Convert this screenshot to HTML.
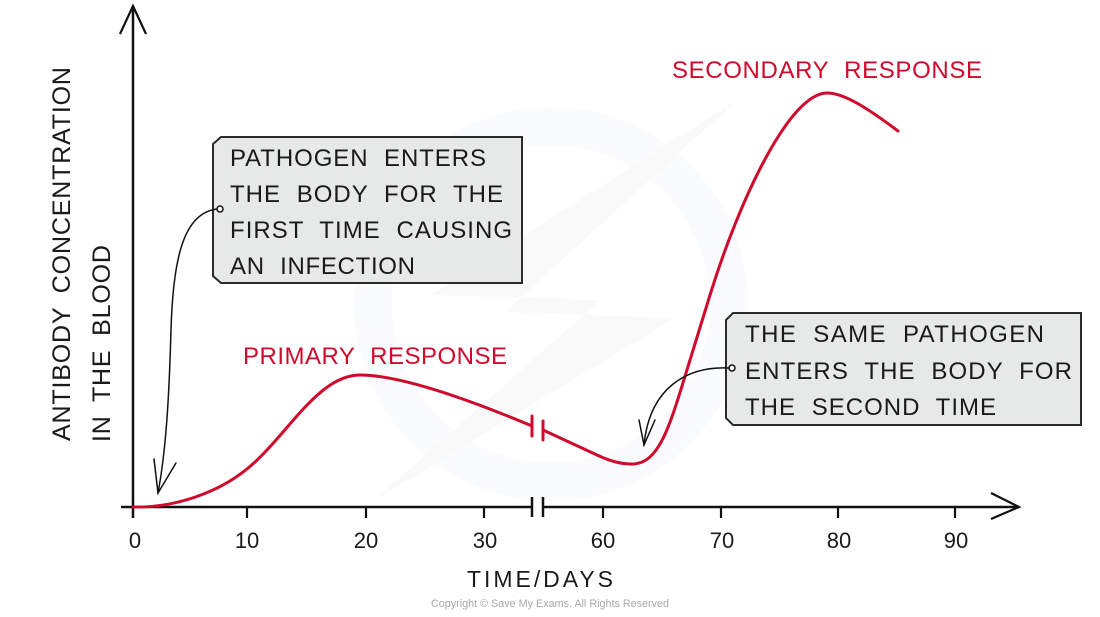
<!DOCTYPE html>
<html>
<head>
<meta charset="utf-8">
<style>
  html, body { margin:0; padding:0; background:#fff; }
  svg { display:block; }
  text { font-family: "Liberation Sans", sans-serif; }
</style>
</head>
<body>
<svg width="1100" height="617" viewBox="0 0 1100 617" xmlns="http://www.w3.org/2000/svg">
  <!-- faint watermark -->
  <circle cx="551" cy="304" r="178" fill="none" stroke="#f9fbfd" stroke-width="38"/>
  <polygon points="737,100 430,295 600,300 375,500 675,318 505,312" fill="#f9f9fa"/>

  <!-- Y axis -->
  <line x1="133" y1="6" x2="133" y2="518" stroke="#111" stroke-width="2.5"/>
  <polyline points="120,34 133,6 146,34" fill="none" stroke="#111" stroke-width="2.2"/>

  <!-- X axis -->
  <line x1="121" y1="507" x2="532" y2="507" stroke="#111" stroke-width="2.5"/>
  <line x1="543" y1="507" x2="1018" y2="507" stroke="#111" stroke-width="2.5"/>
  <polyline points="991,493 1019,507 991,519" fill="none" stroke="#111" stroke-width="2.2"/>
  <line x1="532" y1="497" x2="532" y2="517" stroke="#111" stroke-width="2.5"/>
  <line x1="543" y1="497" x2="543" y2="517" stroke="#111" stroke-width="2.5"/>

  <!-- ticks -->
  <g stroke="#111" stroke-width="2.2">
    <line x1="247" y1="507" x2="247" y2="518"/>
    <line x1="366" y1="507" x2="366" y2="518"/>
    <line x1="484" y1="507" x2="484" y2="518"/>
    <line x1="603" y1="507" x2="603" y2="518"/>
    <line x1="721" y1="507" x2="721" y2="518"/>
    <line x1="838" y1="507" x2="838" y2="518"/>
    <line x1="955" y1="507" x2="955" y2="518"/>
  </g>

  <!-- tick labels -->
  <g font-size="22" fill="#1a1a1a" text-anchor="middle">
    <text x="135" y="548">0</text>
    <text x="247" y="548">10</text>
    <text x="366" y="548">20</text>
    <text x="485" y="548">30</text>
    <text x="603" y="548">60</text>
    <text x="722" y="548">70</text>
    <text x="839" y="548">80</text>
    <text x="956" y="548">90</text>
  </g>

  <!-- axis titles -->
  <text x="467" y="587" font-size="23" fill="#1a1a1a" textLength="146" lengthAdjust="spacing">TIME/DAYS</text>
  <text transform="translate(70,441) rotate(-90)" font-size="25" fill="#1a1a1a" word-spacing="6" textLength="374" lengthAdjust="spacing">ANTIBODY CONCENTRATION</text>
  <text transform="translate(110,442) rotate(-90)" font-size="25" fill="#1a1a1a" word-spacing="6" textLength="197" lengthAdjust="spacing">IN THE BLOOD</text>

  <!-- red curves -->
  <g fill="none" stroke="#cf0a2c" stroke-width="3" stroke-linecap="round">
    <path d="M133,507 C170,508 220,495 255,462 C290,430 320,375 360,375 C400,375 470,400 532,426"/>
    <line x1="532" y1="416" x2="532" y2="436"/>
    <line x1="543" y1="421" x2="543" y2="440"/>
    <path d="M543,430 L597,455 C612,462 622,464 632,464 C660,464 670,425 690,360 L710,295 C740,198 790,93 827,93 C845,93 870,110 898,131"/>
  </g>

  <!-- red labels -->
  <text x="243" y="364" font-size="24" fill="#cf0a2c" word-spacing="8" textLength="264" lengthAdjust="spacing">PRIMARY RESPONSE</text>
  <text x="672" y="78" font-size="24" fill="#cf0a2c" word-spacing="8" textLength="310" lengthAdjust="spacing">SECONDARY RESPONSE</text>

  <!-- Box 1 -->
  <path d="M221,137 H522 V283 H221 L213,276 V144 Z" fill="#e7e8e8" stroke="#2b2b2b" stroke-width="2"/>
  <g font-size="24" fill="#1a1a1a" word-spacing="8">
    <text x="230" y="166" textLength="256" lengthAdjust="spacing">PATHOGEN ENTERS</text>
    <text x="230" y="202" textLength="273" lengthAdjust="spacing">THE BODY FOR THE</text>
    <text x="230" y="238" textLength="282" lengthAdjust="spacing">FIRST TIME CAUSING</text>
    <text x="230" y="274" textLength="185" lengthAdjust="spacing">AN INFECTION</text>
  </g>

  <!-- Box 2 -->
  <path d="M733,313 H1081 V425 H733 L726,418 V320 Z" fill="#e7e8e8" stroke="#2b2b2b" stroke-width="2"/>
  <g font-size="24" fill="#1a1a1a" word-spacing="8">
    <text x="745" y="342" textLength="299" lengthAdjust="spacing">THE SAME PATHOGEN</text>
    <text x="745" y="379" textLength="327" lengthAdjust="spacing">ENTERS THE BODY FOR</text>
    <text x="745" y="415" textLength="251" lengthAdjust="spacing">THE SECOND TIME</text>
  </g>

  <!-- connectors -->
  <g fill="none" stroke="#111" stroke-width="1.5" stroke-linecap="round">
    <path d="M217,209 C183,213 173,260 171,330 C169,400 166,450 158,493"/>
    <polyline points="154,459 158,493 176,463"/>
    <path d="M729,368 C690,366 650,385 644,445"/>
    <polyline points="639,420 644,445 655,420"/>
  </g>
  <circle cx="220" cy="209" r="3" fill="#fff" stroke="#111" stroke-width="1.5"/>
  <circle cx="732" cy="368" r="3" fill="#fff" stroke="#111" stroke-width="1.5"/>

  <!-- copyright -->
  <text x="550" y="607" font-size="11" fill="#a8a8a8" text-anchor="middle" textLength="238" lengthAdjust="spacingAndGlyphs">Copyright © Save My Exams. All Rights Reserved</text>
</svg>
</body>
</html>
